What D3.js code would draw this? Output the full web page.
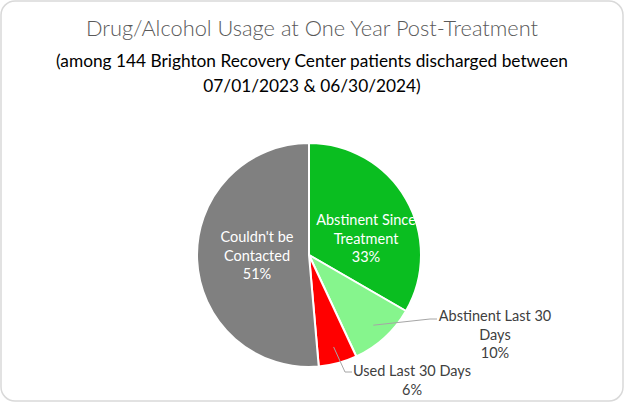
<!DOCTYPE html>
<html><head><meta charset="utf-8">
<script src="https://cdn.jsdelivr.net/npm/d3@7"></script>
<style>body{margin:0;background:#fff;} svg{display:block;}</style>
</head><body>
<svg id="c" width="625" height="403"></svg>
<script>
const categories = ["Abstinent Since Treatment", "Abstinent Last 30 Days", "Used Last 30 Days", "Couldn't be Contacted"];
const counts = [48, 14, 8, 74];
const percentLabels = ["33%", "10%", "6%", "51%"];
const colors = ["#0ABE20", "#86F58D", "#FF0000", "#808080"];
const labelLines = [["Abstinent Since", "Treatment", "33%"], ["Abstinent Last 30", "Days", "10%"], ["Used Last 30 Days", "6%"], ["Couldn't be", "Contacted", "51%"]];

const svg = d3.select("#c");
const font = "Lato, 'Open Sans', sans-serif";
svg.append("rect").attr("x",1).attr("y",1).attr("width",622).attr("height",400).attr("rx",14)
  .attr("fill","#fff").attr("stroke","#d9d9d9").attr("stroke-width",1.5);

svg.append("text").attr("x",312).attr("y",36).attr("text-anchor","middle")
  .attr("font-family",font).attr("font-size",21.8).attr("font-weight",300).attr("fill","#595959")
  .text("Drug/Alcohol Usage at One Year Post-Treatment");
svg.append("text").attr("x",312).attr("y",67).attr("text-anchor","middle")
  .attr("font-family",font).attr("font-size",17.3).attr("fill","#000")
  .text("(among 144 Brighton Recovery Center patients discharged between");
svg.append("text").attr("x",312).attr("y",92).attr("text-anchor","middle")
  .attr("font-family",font).attr("font-size",17.3).attr("fill","#000")
  .text("07/01/2023 & 06/30/2024)");

const cx = 309, cy = 255, r = 112;
const pie = d3.pie().sort(null).value(d => d)(counts);
const arc = d3.arc().innerRadius(0).outerRadius(r);
const g = svg.append("g").attr("transform",`translate(${cx},${cy})`);
g.selectAll("path").data(pie).join("path")
  .attr("d", arc).attr("fill",(d,i)=>colors[i]).attr("stroke","#fff").attr("stroke-width",2);

// inside labels
const inside = [{i:0, x:366, y:225}, {i:3, x:257, y:242}];
inside.forEach(o => {
  const t = svg.append("text").attr("text-anchor","middle").attr("font-family",font)
    .attr("font-size",14.5).attr("fill","#fff");
  labelLines[o.i].forEach((s,k)=>t.append("tspan").attr("x",o.x).attr("y",o.y+k*18.7).text(s));
});

// outside labels with leader lines
function leader(i, frac, pts) {
  const a = pie[i].startAngle + (pie[i].endAngle - pie[i].startAngle)*frac;
  const rr = r*0.85;
  const p0 = [cx + rr*Math.sin(a), cy - rr*Math.cos(a)];
  svg.append("polyline").attr("points",[p0, ...pts].map(p=>p.join(",")).join(" "))
    .attr("fill","none").attr("stroke","#a6a6a6").attr("stroke-width",1);
}
leader(1, 0.5, [[430,319],[437,319]]);
leader(2, 0.5, [[345,372],[352,372]]);

const outside = [{i:1, x:495, y:321}, {i:2, x:412, y:376}];
outside.forEach(o => {
  const t = svg.append("text").attr("text-anchor","middle").attr("font-family",font)
    .attr("font-size",14.5).attr("fill","#404040");
  labelLines[o.i].forEach((s,k)=>t.append("tspan").attr("x",o.x).attr("y",o.y+k*18.7).text(s));
});
</script>
</body></html>
